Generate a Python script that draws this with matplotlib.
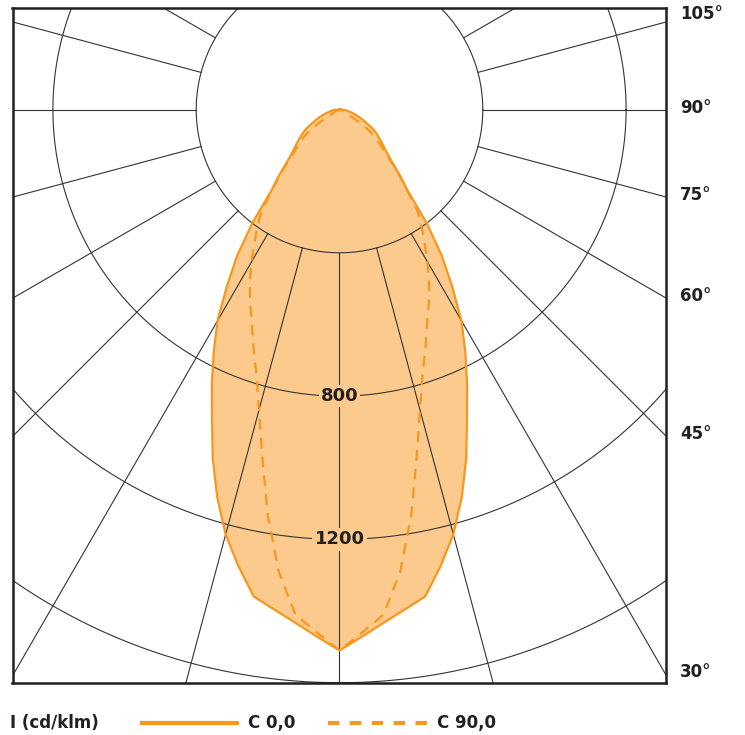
import numpy as np
import matplotlib.pyplot as plt
from matplotlib.lines import Line2D

# luminous intensity, cd/klm, angle measured from nadir (symmetric curves)
angles = [0, 2.5, 5, 7.5, 10, 12.5, 15, 17.5, 20, 22.5, 25, 27.5, 30, 32.5, 35, 37.5,
          40, 42.5, 45, 47.5, 50, 52.5, 55, 57.5, 60, 62.5, 65, 67.5, 70, 72.5, 75,
          77.5, 80, 82.5, 85, 87.5, 90]
c0_0 = [1510, 1472, 1437, 1407, 1380, 1305, 1228, 1135, 1035, 930, 843, 760, 681, 585,
        498, 400, 297, 250, 208, 180, 162, 147, 133, 121, 107, 90, 77, 66, 55, 46, 37,
        30, 24, 18, 12, 6, 0]
c90_0 = [1510, 1461, 1415, 1300, 1152, 995, 868, 772, 703, 640, 591, 541, 491, 442,
         400, 358, 292, 245, 200, 165, 145, 125, 98, 60, 25, 15, 10, 7, 5, 4, 3,
         2.5, 2, 1.5, 1, 0.5, 0]

rings = [400, 800, 1200, 1600]
labelled_rings = [800, 1200]
spoke_angles = list(range(0, 181, 15))
angle_labels = [105, 90, 75, 60, 45, 30]

FILL = '#fcca8c'
EDGE = '#f7981e'
INK = '#231f20'
GRID = '#333333'

# pixel layout of the reference
W, H = 745, 735
left_px, right_px, top_px, bottom_px = 12.5, 665.5, 8, 683
cx, cy = 339.5, 109.5
scale = 400 / 143.3  # cd per pixel

fig = plt.figure(figsize=(W / 100, H / 100), dpi=100)
ax = fig.add_axes([left_px / W, 1 - bottom_px / H,
                   (right_px - left_px) / W, (bottom_px - top_px) / H])
xmin, xmax = (left_px - cx) * scale, (right_px - cx) * scale
ymin, ymax = (cy - bottom_px) * scale, (cy - top_px) * scale
ax.set_xlim(xmin, xmax)
ax.set_ylim(ymin, ymax)
ax.set_xticks([])
ax.set_yticks([])
for sp in ax.spines.values():
    sp.set_linewidth(1.8)
    sp.set_color(INK)


def curve_xy(vals):
    a = np.radians(angles)
    r = np.array(vals, dtype=float)
    th = np.concatenate([-a[::-1], a[1:]])
    rr = np.concatenate([r[::-1], r[1:]])
    return rr * np.sin(th), -rr * np.cos(th)


x0, y0 = curve_xy(c0_0)
x90, y90 = curve_xy(c90_0)

ax.fill(x0, y0, color=FILL, lw=0, zorder=1)
ax.fill(x90, y90, color=FILL, lw=0, zorder=1)

# grid
t = np.linspace(0, 2 * np.pi, 720)
for r in rings:
    ax.plot(r * np.cos(t), r * np.sin(t), color=GRID, lw=0.8, zorder=2)
for a in spoke_angles:
    for sgn in ([1] if a in (0, 180) else [1, -1]):
        ar = np.radians(a) * sgn
        rr = np.array([rings[0], 4000])
        ax.plot(rr * np.sin(ar), -rr * np.cos(ar), color=GRID, lw=0.8, zorder=2)

ax.plot(x0, y0, color=EDGE, lw=1.6, zorder=3)
ax.plot(x90, y90, color=EDGE, lw=1.6, zorder=3, dashes=(4.9, 3.6))

for r in labelled_rings:
    ax.text(0, -r, str(r), ha='center', va='center', fontsize=13, fontweight='bold',
            color=INK, zorder=4,
            bbox=dict(facecolor=FILL, edgecolor='none', pad=1.5))

label_shift = {105: 6}  # px upward
for a in angle_labels:
    ar = np.radians(a)
    y = -xmax * np.cos(ar) / np.sin(ar) + (label_shift.get(a, 0) + 2) * scale
    ax.text(xmax + 14.5 * scale, y, f'{a}°', ha='left', va='center', fontsize=12,
            fontweight='bold', color=INK, clip_on=False)

# legend row
ly = (H - 723) / H
fig.text(10 / W, ly, 'I (cd/klm)', ha='left', va='center', fontsize=12,
         fontweight='bold', color=INK)
fig.add_artist(Line2D([140 / W, 239 / W], [ly, ly], color=EDGE, lw=3,
                      solid_capstyle='butt'))
fig.text(248 / W, ly, 'C 0,0', ha='left', va='center', fontsize=12,
         fontweight='bold', color=INK)
fig.add_artist(Line2D([328 / W, 428 / W], [ly, ly], color=EDGE, lw=3,
                      dashes=(2.75, 2.5), dash_capstyle='butt'))
fig.text(437 / W, ly, 'C 90,0', ha='left', va='center', fontsize=12,
         fontweight='bold', color=INK)

fig.savefig('out.png', dpi=100)
